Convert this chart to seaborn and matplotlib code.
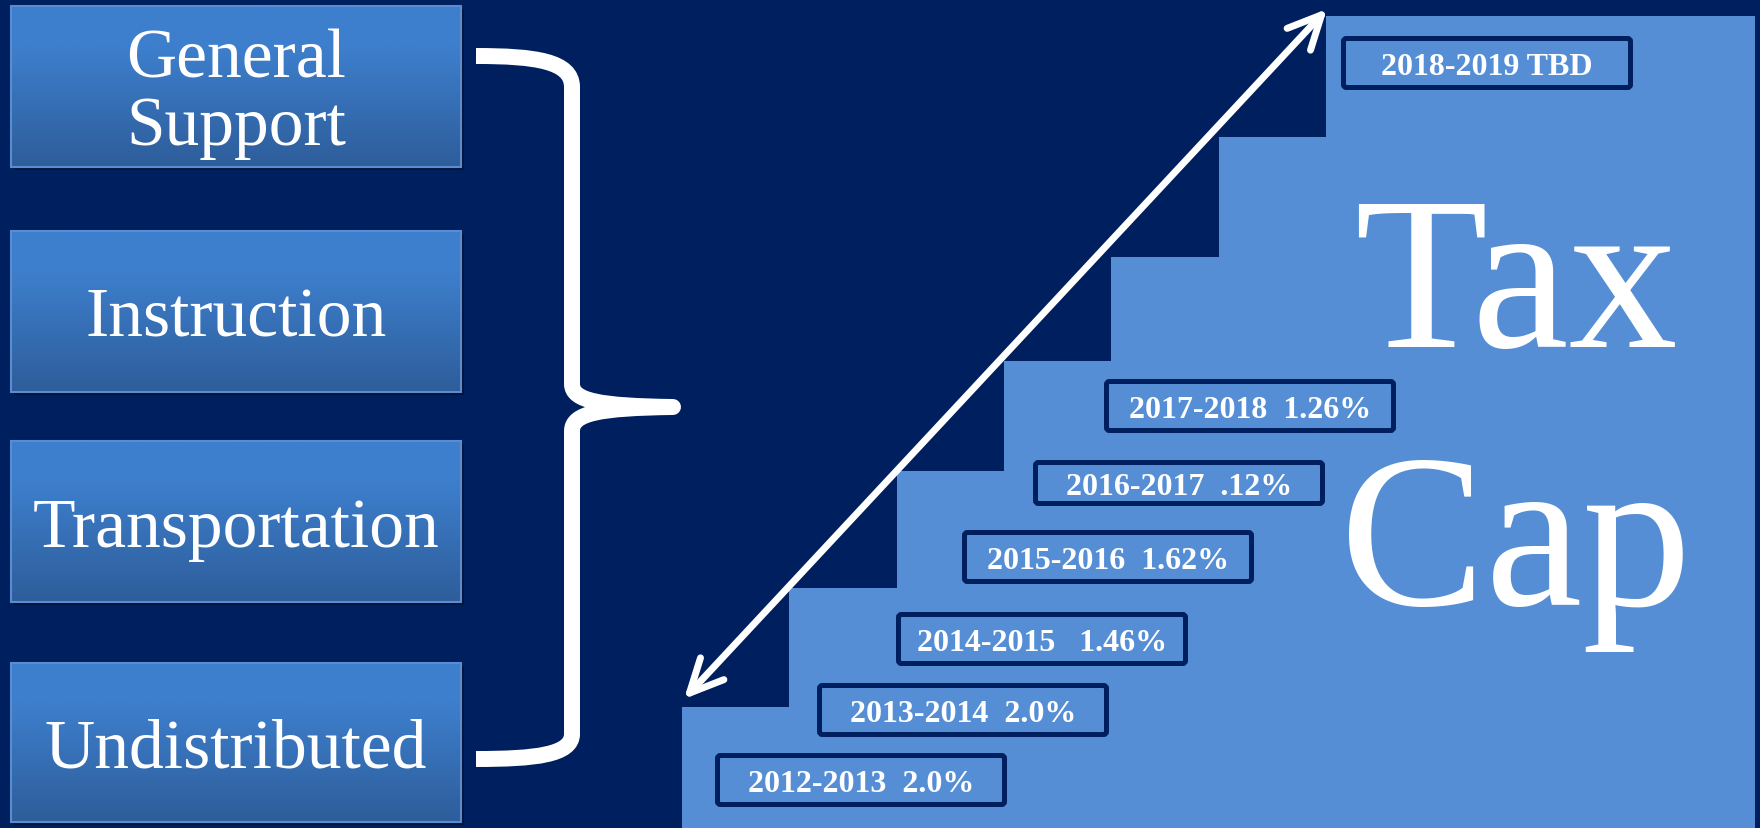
import numpy as np
import matplotlib
matplotlib.use("Agg")
import matplotlib.pyplot as plt
import seaborn as sns
import pandas as pd
from matplotlib.patches import FancyBboxPatch, Rectangle, FancyArrowPatch, PathPatch
from matplotlib.path import Path
from matplotlib.colors import to_rgb

# ---------------- data ----------------
categories = ["General\nSupport", "Instruction", "Transportation", "Undistributed"]
years = ["2012-2013", "2013-2014", "2014-2015", "2015-2016", "2016-2017", "2017-2018", "2018-2019"]
cap_values = ["2.0%", "2.0%", "1.46%", "1.62%", ".12%", "1.26%", "TBD"]
gaps = ["  ", "  ", "   ", "  ", "  ", "  ", " "]
# staircase step heights (pixels above bottom); last step is 4 units wide
step_heights = [121, 240, 357, 467, 571, 691, 812, 812, 812, 812]
title_words = ["Tax", "Cap"]

# ---------------- style ----------------
NAVY = "#001F5E"
LIGHT = "#558ED5"
W, H = 1760, 829

sns.set_theme(style="white")
plt.rcParams["font.family"] = ["Liberation Serif", "DejaVu Serif"]

fig = plt.figure(figsize=(W / 100, H / 100), dpi=100, facecolor=NAVY)
ax = fig.add_axes([0, 0, 1, 1])
ax.set_facecolor(NAVY)


def Y(ypx):
    return H - ypx


# ---------------- staircase (seaborn bars) ----------------
stair_left, stair_right = 682, 1755
unit = (stair_right - stair_left) / len(step_heights)
centers = [stair_left + unit * (i + 0.5) for i in range(len(step_heights))]
df = pd.DataFrame({"x": centers, "h": step_heights})
sns.barplot(data=df, x="x", y="h", native_scale=True, width=1.0, color=LIGHT,
            saturation=1, edgecolor="none", linewidth=0, errorbar=None, ax=ax, zorder=1)
# extend each bar rightwards slightly so adjacent bars overlap (no seams)
bars = [p for p in ax.patches if isinstance(p, Rectangle)]
for i, p in enumerate(bars):
    if i < len(bars) - 1:
        p.set_width(p.get_width() + 2)

# ---------------- left category boxes ----------------
box_tops = [7, 232, 442, 664]
box_bottoms = [168, 393, 603, 823]
bx0, bx1 = 11, 461
top_c = np.array(to_rgb("#3D7FCD"))
bot_c = np.array(to_rgb("#2E5D9A"))
t = np.linspace(0, 1, 200)
ramp = np.clip((t - 0.25) / 0.75, 0, 1)
grad = (top_c[None, :] * (1 - ramp[:, None]) + bot_c[None, :] * ramp[:, None])[:, None, :]

for cat, tp, bt in zip(categories, box_tops, box_bottoms):
    # shadow
    ax.add_patch(Rectangle((bx0 + 3, Y(bt) - 3), bx1 - bx0, bt - tp,
                           facecolor="black", alpha=0.35, edgecolor="none", zorder=2))
    ax.imshow(grad, extent=(bx0, bx1, Y(bt), Y(tp)), aspect="auto",
              interpolation="bilinear", zorder=3)
    ax.add_patch(Rectangle((bx0, Y(bt)), bx1 - bx0, bt - tp, facecolor="none",
                           edgecolor="#5B8CCF", lw=1.5, zorder=4))
    lines = cat.split("\n")
    n = len(lines)
    cy = (tp + bt) / 2
    for i, line in enumerate(lines):
        base = cy + 24 + (i - (n - 1) / 2) * 68
        ax.text((bx0 + bx1) / 2, Y(base), line, ha="center", va="baseline",
                color="white", fontsize=50, zorder=5)

# ---------------- curly brace ----------------
brace_pts = [
    (476, 57),
    (535, 57), (572, 62), (572, 88),
    (572, 385),
    (572, 402), (600, 407), (673, 408),
    (600, 409), (572, 414), (572, 432),
    (572, 735),
    (572, 756), (535, 760), (476, 760),
]
codes = [Path.MOVETO,
         Path.CURVE4, Path.CURVE4, Path.CURVE4,
         Path.LINETO,
         Path.CURVE4, Path.CURVE4, Path.CURVE4,
         Path.CURVE4, Path.CURVE4, Path.CURVE4,
         Path.LINETO,
         Path.CURVE4, Path.CURVE4, Path.CURVE4]
brace = Path([(x, Y(y)) for x, y in brace_pts], codes)
ax.add_patch(PathPatch(brace, facecolor="none", edgecolor="white", lw=11.5,
                       capstyle="butt", joinstyle="round", zorder=6))

# ---------------- year label boxes ----------------
lab_left = [715, 817, 896, 962, 1033, 1104, 1341]
lab_top = [754, 684, 613, 531, 461, 380, 37]
lab_h = [54, 54, 54, 54, 46, 54, 54]
lab_w = 292
lw_px = 5
for yr, val, gp, lx, ltp, lh in zip(years, cap_values, gaps, lab_left, lab_top, lab_h):
    ax.add_patch(FancyBboxPatch((lx + lw_px / 2, Y(ltp + lh) + lw_px / 2),
                                lab_w - lw_px, lh - lw_px,
                                boxstyle="round,pad=0,rounding_size=3",
                                facecolor=LIGHT, edgecolor=NAVY, lw=lw_px * 0.72, zorder=7))
    ax.text(lx + lab_w / 2, Y(ltp + lh / 2 + 11), yr + gp + val, ha="center", va="baseline",
            color="white", fontsize=23, fontweight="bold", zorder=8)

# ---------------- Tax Cap ----------------
for word, base in zip(title_words, [347, 605]):
    ax.text(1516, Y(base), word, ha="center", va="baseline", color="white",
            fontsize=157, zorder=8)

# ---------------- double-headed arrow ----------------
arrow = FancyArrowPatch((684, Y(700)), (1327, Y(10)),
                        arrowstyle="<->,head_length=24,head_width=11.5",
                        mutation_scale=1, color="white", lw=5,
                        shrinkA=0, shrinkB=0, capstyle="round", joinstyle="round", zorder=9)
ax.add_patch(arrow)

ax.set_xlim(0, W)
ax.set_ylim(0, H)
ax.axis("off")

fig.savefig("out.png", dpi=100, facecolor=NAVY)
